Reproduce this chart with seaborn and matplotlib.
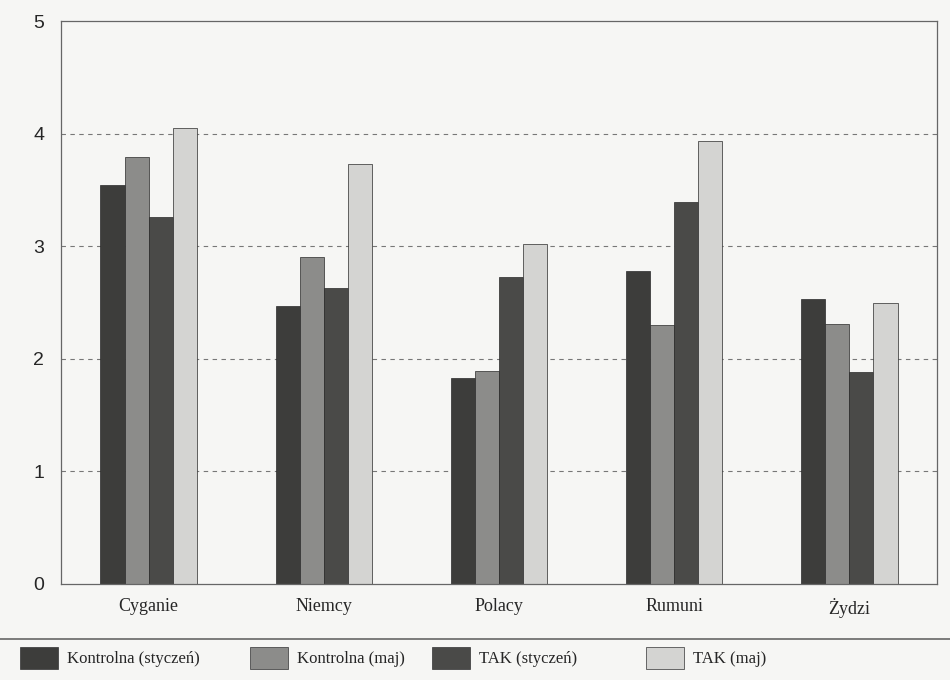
import pandas as pd
import seaborn as sns
import matplotlib.pyplot as plt
from matplotlib.patches import Rectangle

categories = ["Cyganie", "Niemcy", "Polacy", "Rumuni", "Żydzi"]
series = ["Kontrolna (styczeń)", "Kontrolna (maj)", "TAK (styczeń)", "TAK (maj)"]
kontrolna_sty = [3.54, 2.47, 1.83, 2.78, 2.53]
kontrolna_maj = [3.79, 2.90, 1.89, 2.30, 2.31]
tak_sty = [3.26, 2.63, 2.73, 3.39, 1.88]
tak_maj = [4.05, 3.73, 3.02, 3.93, 2.50]
colors = ["#3d3d3b", "#8c8c8a", "#4a4a48", "#d4d4d2"]

rows = []
for name, vals in zip(series, [kontrolna_sty, kontrolna_maj, tak_sty, tak_maj]):
    for c, v in zip(categories, vals):
        rows.append({"kategoria": c, "seria": name, "wartosc": v})
df = pd.DataFrame(rows)

sns.set_style("white")
bg = "#f6f6f4"
fig = plt.figure(figsize=(9.5, 6.8), dpi=100, facecolor=bg)
ax = fig.add_axes([61/950, 1 - 584/680, (937 - 61)/950, (584 - 21)/680])
ax.set_facecolor(bg)

sns.barplot(data=df, x="kategoria", y="wartosc", hue="seria", palette=colors,
            width=0.55, edgecolor="#2a2a2a", linewidth=0.5, saturation=1,
            ax=ax, legend=False)

ax.set_ylim(0, 5)
ax.set_xlim(-0.5, 4.5)
ax.set_yticks([0, 1, 2, 3, 4, 5])
ax.set_yticks([0.5, 1.5, 2.5, 3.5, 4.5], minor=True)
ax.set_xticks([0.5, 1.5, 2.5, 3.5], minor=True)
ax.set_xticks(range(5))
ax.set_xticklabels(categories, family="Liberation Serif", fontsize=13)
for lab in ax.get_yticklabels():
    lab.set_family("Liberation Sans")
    lab.set_fontsize(14)
ax.tick_params(axis="x", which="major", length=0, pad=10)
ax.tick_params(axis="x", which="minor", length=8, direction="inout", color="#888888")
ax.tick_params(axis="y", which="major", length=8, direction="inout", color="#666666", pad=8)
ax.tick_params(axis="y", which="minor", length=6, direction="inout", color="#888888")
ax.set_xlabel("")
ax.set_ylabel("")
for y in [1, 2, 3, 4]:
    ax.axhline(y, color="#777777", linestyle=(0, (4, 4)), linewidth=0.8, zorder=0)
for s in ax.spines.values():
    s.set_color("#666666")
    s.set_linewidth(0.9)

# legend strip at the bottom
fig.add_artist(plt.Line2D([0, 1], [1 - 639/680, 1 - 639/680], color="#666666",
                          linewidth=1.2, transform=fig.transFigure))
legend_x = [20, 250, 432, 646]
for name, c, x in zip(series, colors, legend_x):
    h = Rectangle((0, 0), 1, 1, facecolor=c, edgecolor="#333333", linewidth=0.5)
    fig.legend([h], [name], loc="center left", bbox_to_anchor=(x/950, 1 - 658/680),
               frameon=False, handlelength=2.3, handleheight=1.6, handletextpad=0.5,
               borderaxespad=0, borderpad=0,
               prop={"family": "Liberation Serif", "size": 12})

plt.savefig("out.png", dpi=100, facecolor=bg)
plt.close()
